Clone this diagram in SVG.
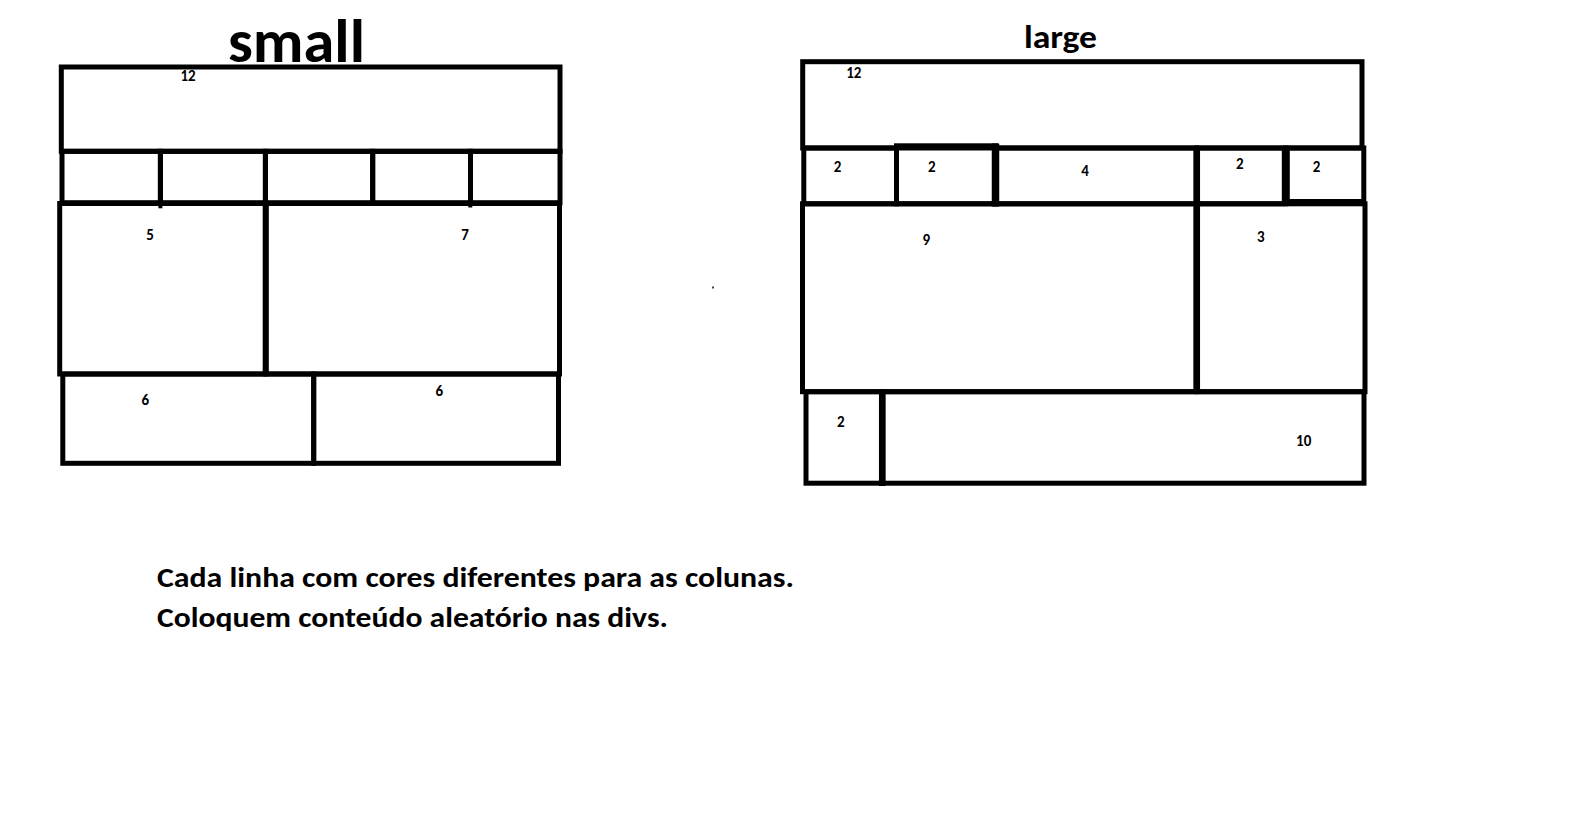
<svg xmlns="http://www.w3.org/2000/svg" width="1596" height="825" viewBox="0 0 1596 825">
<style>
.c{fill:none;stroke:#000;stroke-width:5}
.k{stroke:#000;fill:none}
.n{font-family:Carlito,Lato,'Open Sans',sans-serif;font-weight:900;font-size:15px;fill:#000;text-anchor:middle}
.t{font-family:Carlito,Lato,'Open Sans',sans-serif;font-weight:700;fill:#000}
</style>
<rect x="0" y="0" width="1596" height="825" fill="#fff"/>

<g id="title-small"><text class="t" x="228" y="61.7" font-size="60" textLength="137" lengthAdjust="spacingAndGlyphs">small</text></g>
<g id="title-large"><text class="t" x="1024" y="48.3" font-size="32" textLength="73" lengthAdjust="spacingAndGlyphs">large</text></g>

<g id="small-layout">
  <g id="s-header"><rect class="c" x="61.3" y="67" width="498.7" height="84.3" stroke-width="4.5"/><text class="n" x="188" y="81" font-size="13">12</text></g>
  <g id="s-r2c1"><rect class="c" x="62" y="151.3" width="98.4" height="51.4"/><line class="k" x1="160.4" y1="200" x2="160.4" y2="208.3" stroke-width="4"/></g>
  <g id="s-r2c2"><rect class="c" x="160.4" y="151.3" width="105" height="51.4"/></g>
  <g id="s-r2c3"><rect class="c" x="265.4" y="151.3" width="107.3" height="51.4"/></g>
  <g id="s-r2c4"><rect class="c" x="372.7" y="151.3" width="97.8" height="51.4"/><line class="k" x1="470.3" y1="200" x2="470.3" y2="207.5" stroke-width="4"/></g>
  <g id="s-r2c5"><rect class="c" x="470.5" y="151.3" width="89.5" height="51.4"/></g>
  <g id="s-r3c1"><rect class="c" x="59.7" y="203.5" width="206" height="170.5"/><text class="n" x="150" y="240">5</text></g>
  <g id="s-r3c2"><rect class="c" x="265.7" y="203.5" width="293.8" height="170.5"/><line class="k" x1="265.7" y1="203" x2="265.7" y2="374" stroke-width="6"/><text class="n" x="465" y="240">7</text></g>
  <g id="s-r4c1"><rect class="c" x="62.8" y="374" width="250.9" height="89.3"/><text class="n" x="145.3" y="405">6</text></g>
  <g id="s-r4c2"><rect class="c" x="313.7" y="374" width="244.8" height="89.3"/><text class="n" x="439.2" y="396">6</text></g>
</g>

<g id="large-layout">
  <g id="l-header"><rect class="c" x="802.7" y="61.7" width="559.3" height="86.3" stroke-width="4.7"/><text class="n" x="853.8" y="78.3">12</text></g>
  <g id="l-r2c1"><rect class="c" x="803.8" y="148" width="92.7" height="55.8"/><text class="n" x="837.5" y="172">2</text></g>
  <g id="l-r2c2"><rect class="c" x="896.5" y="145.8" width="99" height="58"/><line class="k" x1="995.5" y1="143.5" x2="995.5" y2="206.5" stroke-width="7.5"/><text class="n" x="931.7" y="172">2</text></g>
  <g id="l-r2c3"><rect class="c" x="995.5" y="148" width="201.2" height="55.8"/><text class="n" x="1085" y="176">4</text></g>
  <g id="l-r2c4"><rect class="c" x="1196.7" y="148" width="89.1" height="55.8"/><line class="k" x1="1196.7" y1="148" x2="1196.7" y2="204" stroke-width="6.7"/><text class="n" x="1239.8" y="169">2</text></g>
  <g id="l-r2c5"><rect class="c" x="1285.8" y="148" width="78" height="53.5"/><line class="k" x1="1285.8" y1="148" x2="1285.8" y2="203" stroke-width="8"/><text class="n" x="1316.5" y="172">2</text></g>
  <g id="l-r3c1"><rect class="c" x="802.5" y="203.8" width="394.2" height="187.9"/><text class="n" x="926.2" y="245">9</text></g>
  <g id="l-r3c2"><rect class="c" x="1196.7" y="203.8" width="168.3" height="187.9"/><line class="k" x1="1196.7" y1="203.8" x2="1196.7" y2="391.7" stroke-width="6.7"/><text class="n" x="1260.8" y="242.3">3</text></g>
  <g id="l-r4c1"><rect class="c" x="806" y="391.7" width="76.3" height="91.5"/><text class="n" x="840.8" y="426.7">2</text></g>
  <g id="l-r4c2"><rect class="c" x="882.3" y="391.7" width="481.7" height="91.5"/><line class="k" x1="882.3" y1="389" x2="882.3" y2="486" stroke-width="6.7"/><text class="n" x="1303.7" y="446">10</text></g>
</g>

<g id="connectors"></g>

<rect x="712" y="286.5" width="2" height="2" fill="#444"/>

<g id="notes">
  <text class="t" x="157" y="587.3" font-size="28" textLength="637" lengthAdjust="spacingAndGlyphs">Cada linha com cores diferentes para as colunas.</text>
  <text class="t" x="157" y="626.8" font-size="28" textLength="511" lengthAdjust="spacingAndGlyphs">Coloquem conteúdo aleatório nas divs.</text>
</g>
</svg>
